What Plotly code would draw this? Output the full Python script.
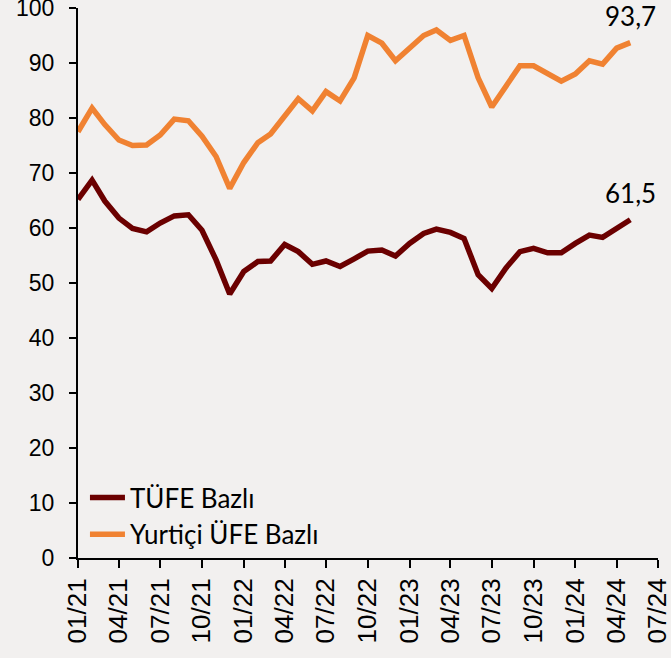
import plotly.graph_objects as go
import pandas as pd

months = pd.date_range("2021-01-01", "2024-05-01", freq="MS")

tufe_bazli = [65.2, 68.7, 64.9, 61.8, 59.9, 59.3, 60.9, 62.2, 62.4, 59.6,
              54.2, 48.0, 52.1, 53.9, 54.0, 57.0, 55.7, 53.4, 54.0, 53.0,
              54.4, 55.8, 56.0, 54.9, 57.2, 59.0, 59.8, 59.2, 58.1, 51.5,
              49.0, 52.7, 55.7, 56.3, 55.5, 55.5, 57.2, 58.7, 58.3, 59.9, 61.5]

yurtici_ufe_bazli = [77.5, 81.8, 78.8, 76.0, 75.0, 75.1, 76.9, 79.8, 79.5, 76.7,
                     73.0, 67.2, 71.9, 75.5, 77.1, 80.5, 83.5, 81.3, 84.8, 83.1,
                     87.3, 95.0, 93.6, 90.4, 92.7, 95.0, 96.0, 94.1, 95.0, 87.3,
                     82.0, 85.8, 89.5, 89.5, 88.0, 86.7, 88.0, 90.4, 89.8, 92.7, 93.7]

series_names = ["TÜFE Bazlı", "Yurtiçi ÜFE Bazlı"]
colors = ["#6b0000", "#f08232"]

fig = go.Figure()
for name, vals, col in zip(series_names, [tufe_bazli, yurtici_ufe_bazli], colors):
    fig.add_trace(go.Scatter(x=months, y=vals, mode="lines", name=name,
                             line=dict(color=col, width=5.5)))
    fig.add_annotation(x=months[-1], y=vals[-1], text=f"{vals[-1]:.1f}".replace(".", ","),
                       showarrow=False, yanchor="bottom", yshift=9,
                       font=dict(family="Lato", size=26, color="#000000"))

bg = "#f2f0ef"
fig.update_layout(
    width=671, height=658,
    margin=dict(l=78, r=13, t=8, b=100),
    paper_bgcolor=bg, plot_bgcolor=bg,
    showlegend=True,
    legend=dict(x=0.012, y=0.0, xanchor="left", yanchor="bottom",
                bgcolor="rgba(0,0,0,0)",
                font=dict(family="Lato", size=26, color="#000000"),
                itemwidth=35, tracegroupgap=0),
    xaxis=dict(range=["2021-01-01", "2024-07-01"], dtick="M3", tick0="2021-01-01",
               tickformat="%m/%y", tickangle=-90, showgrid=False, zeroline=False,
               showline=True, linecolor="#000000", linewidth=2, automargin=False,
               ticks="outside", ticklen=8, tickwidth=2, tickcolor="#000000",
               ticklabeloverflow="allow",
               tickfont=dict(family="Liberation Sans, Arial", size=26, color="#000000")),
    yaxis=dict(range=[0, 100], dtick=10, showgrid=False, zeroline=False,
               showline=True, linecolor="#000000", linewidth=2, automargin=False,
               ticks="outside", ticklen=7, tickwidth=2, tickcolor="#000000",
               ticklabelstandoff=10, ticklabeloverflow="allow",
               tickfont=dict(family="Liberation Sans, Arial", size=23, color="#000000")),
)

fig.write_html("out.html", config={"displayModeBar": False},
               post_script="document.body.style.margin='0';document.body.style.overflow='hidden';")
